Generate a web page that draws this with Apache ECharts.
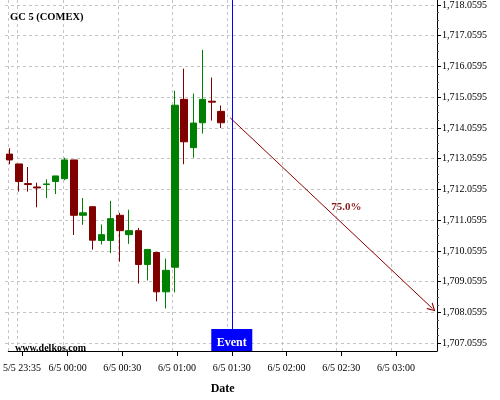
<!DOCTYPE html>
<html>
<head>
<meta charset="utf-8">
<script src="https://cdn.jsdelivr.net/npm/echarts@6/dist/echarts.min.js"></script>
<style>html,body{margin:0;padding:0;background:#fff;}#c{width:500px;height:400px;}</style>
</head>
<body>
<div id="c"></div>
<script>
const categories = ['5/5 23:30','5/5 23:35','5/5 23:40','5/5 23:45','5/5 23:50','5/5 23:55',
  '6/5 00:00','6/5 00:05','6/5 00:10','6/5 00:15','6/5 00:20','6/5 00:25',
  '6/5 00:30','6/5 00:35','6/5 00:40','6/5 00:45','6/5 00:50','6/5 00:55',
  '6/5 01:00','6/5 01:05','6/5 01:10','6/5 01:15','6/5 01:20','6/5 01:25',
  '6/5 01:30','6/5 01:35','6/5 01:40','6/5 01:45','6/5 01:50','6/5 01:55',
  '6/5 02:00','6/5 02:05','6/5 02:10','6/5 02:15','6/5 02:20','6/5 02:25',
  '6/5 02:30','6/5 02:35','6/5 02:40','6/5 02:45','6/5 02:50','6/5 02:55',
  '6/5 03:00','6/5 03:05','6/5 03:10','6/5 03:15','6/5 03:20'];
const opens  = [1713.21,1712.89,1712.25,1712.14,1712.22,1712.32,1712.41,1713.02,1711.22,1711.50,1710.40,1710.40,1711.22,1710.59,1710.72,1709.62,1710.01,1708.73,1709.53,1714.99,1713.42,1714.23,1714.93,1714.60];
const closes = [1713.02,1712.32,1712.22,1712.11,1712.24,1712.50,1713.02,1711.22,1711.30,1710.41,1710.59,1711.11,1710.72,1710.72,1709.62,1710.11,1708.73,1709.43,1714.80,1713.61,1714.22,1714.99,1714.90,1714.23];
const lows   = [1712.88,1711.99,1711.99,1711.48,1711.78,1711.91,1712.36,1710.58,1710.91,1710.10,1710.27,1709.99,1709.71,1710.29,1709.00,1709.10,1708.42,1708.19,1708.71,1712.88,1713.09,1713.88,1714.30,1714.06];
const highs  = [1713.40,1712.89,1712.79,1712.28,1712.39,1712.50,1713.09,1713.02,1711.78,1711.50,1710.92,1711.69,1711.30,1711.40,1710.81,1710.11,1710.01,1709.81,1715.27,1715.99,1715.18,1716.60,1715.70,1714.79];
const yMin = 1707.0595, yMax = 1718.0595, yStep = 1;
const eventTime = '6/5 01:30';
const eventText = 'Event';
const arrowStart = ['6/5 01:30', 1714.39];
const arrowEnd = ['6/5 03:20', 1708.19];
const arrowLabelAt = ['6/5 02:25', 1711.29];
const arrowText = '75.0%';
const titleText = 'GC 5 (COMEX)';
const watermark = 'www.delkos.com';

const serif = '"Liberation Serif","DejaVu Serif",serif';
const candleData = opens.map((o, i) => [o, closes[i], lows[i], highs[i]]);
const majorLabel = (idx, val) => idx === 1 || val.endsWith(':00') || val.endsWith(':30');
const fmtY = v => {
  const t = yMin + Math.round((v - yMin) / yStep) * yStep;
  const s = t.toFixed(4);
  const [a, b] = s.split('.');
  return a.replace(/\B(?=(\d{3})+(?!\d))/g, ',') + '.' + b;
};
const gridL = 5, gridR = 63;

const chart = echarts.init(document.getElementById('c'), null, {renderer: 'canvas'});
chart.setOption({
  animation: false,
  backgroundColor: '#fff',
  title: [
    {text: titleText, left: 10, top: 12, padding: 0,
     textStyle: {fontFamily: serif, fontSize: 10.5, fontWeight: 'bold', color: '#000'}},
    {text: watermark, left: 15, top: 343, padding: 0,
     textStyle: {fontFamily: serif, fontSize: 10, fontWeight: 'bold', color: '#000'}}
  ],
  grid: [
    {left: gridL, right: gridR, top: 0, bottom: 46},
    {left: gridL, right: gridR, top: 3, bottom: 56.8}
  ],
  xAxis: [
    {type: 'category', gridIndex: 0, data: categories, boundaryGap: true,
     axisLine: {show: true, lineStyle: {color: '#000', width: 1}},
     axisTick: {show: true, alignWithLabel: true, interval: majorLabel, length: 5, lineStyle: {color: '#000'}},
     axisLabel: {interval: majorLabel, margin: 12, fontFamily: serif, fontSize: 10, color: '#000'},
     splitLine: {show: true, interval: majorLabel, lineStyle: {color: '#c4c4c4', type: [3, 3], width: 1}},
     name: 'Date', nameLocation: 'middle', nameGap: 32,
     nameTextStyle: {fontFamily: serif, fontSize: 12, fontWeight: 'bold', color: '#000'}},
    {type: 'category', gridIndex: 1, data: categories, boundaryGap: true, show: false},
    {type: 'category', gridIndex: 0, data: categories, boundaryGap: true,
     axisLine: {show: false}, axisLabel: {show: false}, splitLine: {show: false},
     axisTick: {show: true, alignWithLabel: true, interval: 0, length: 3, lineStyle: {color: '#555'}}}
  ],
  yAxis: [
    {type: 'value', gridIndex: 0, min: 0, max: 1, position: 'right',
     axisLine: {show: true, lineStyle: {color: '#000', width: 1}},
     axisTick: {show: false}, axisLabel: {show: false}, splitLine: {show: false}},
    {type: 'value', gridIndex: 1, min: yMin, max: yMax, interval: yStep, position: 'right', scale: true,
     axisLine: {show: false},
     axisTick: {show: true, length: 4, lineStyle: {color: '#000'}},
     minorTick: {show: true, splitNumber: 4, length: 2, lineStyle: {color: '#555'}},
     axisLabel: {formatter: fmtY, margin: 5, fontFamily: serif, fontSize: 10, color: '#000'},
     splitLine: {show: true, lineStyle: {color: '#c4c4c4', type: [3, 3], width: 1}}}
  ],
  series: [
    {type: 'candlestick', xAxisIndex: 1, yAxisIndex: 1, data: candleData, barWidth: 7,
     itemStyle: {color: '#008000', color0: '#800000', borderColor: '#008000', borderColor0: '#800000', borderWidth: 1},
     markLine: {
       silent: true, animation: false,
       symbol: ['none', 'path://M0,10 L5,0 L10,10 L8.6,10 L5,2.8 L1.4,10 Z'],
       symbolSize: [9, 8],
       lineStyle: {color: '#8b0000', width: 1, type: 'solid'},
       label: {show: false},
       data: [[{coord: arrowStart}, {coord: arrowEnd}]]
     },
     markPoint: {
       silent: true, animation: false,
       data: [{coord: arrowLabelAt, symbol: 'circle', symbolSize: 1,
               itemStyle: {color: 'rgba(0,0,0,0)'},
               label: {show: true, formatter: arrowText, position: 'inside', offset: [15, -6],
                       fontFamily: serif, fontSize: 11, fontWeight: 'bold', color: '#8b1a1a'}}]
     }
    },
    {type: 'line', xAxisIndex: 0, yAxisIndex: 0, data: [],
     markLine: {
       silent: true, animation: false, symbol: ['none', 'none'],
       lineStyle: {color: '#0000ff', width: 1, type: 'solid'},
       label: {show: false},
       data: [{xAxis: eventTime}]
     },
     markPoint: {
       silent: true, animation: false,
       data: [{coord: [eventTime, 0], symbol: 'rect', symbolSize: [41, 22], symbolOffset: [0, -11],
               itemStyle: {color: '#0000ff'},
               label: {show: true, formatter: eventText, position: 'inside', offset: [0, 3],
                       fontFamily: serif, fontSize: 12, fontWeight: 'bold', color: '#fff'}}]
     }
    }
  ]
});
</script>
</body>
</html>
